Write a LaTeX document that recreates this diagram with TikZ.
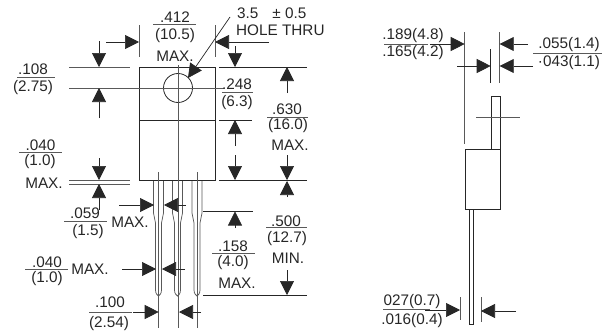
\documentclass[tikz,border=0pt]{standalone}
\usepackage{fontspec}
\setmainfont{Liberation Sans}
\usetikzlibrary{arrows.meta}
\tikzset{
 x=1pt,y=-1pt,
 ln/.style={line width=0.75pt,black!65},
 dk/.style={line width=0.8pt,black!85},
 dim/.style={line width=0.7pt,black!85,-{Triangle[length=14pt,width=14pt]}},
 lbl/.style={font=\fontsize{15.3}{16}\selectfont,text=black!85,inner sep=0pt,anchor=center},
 rule/.style={line width=0.75pt,black!65}
}
\begin{document}
\begin{tikzpicture}
\useasboundingbox (0,0) rectangle (614,332);
% package
\draw[dk] (139,67) rectangle (215,180.5);
\draw[dk] (139,120) -- (215,120);
\draw[dk] (178,88) circle (14.5);
\draw[ln] (178,65) -- (178,328);
\draw[ln] (69,88) -- (224,88);
% extension lines
\draw[ln] (69,67) -- (130,67);
\draw[dk] (219,67) -- (307,67);
\draw[dk] (219,120) -- (252,120);
\draw[dk] (219,180.5) -- (307,180.5);
\draw[ln] (69,180.5) -- (130,180.5) (69,184) -- (130,184);
\draw[ln] (139,25) -- (139,57) (215,25) -- (215,57);
\draw[dk] (203,211.5) -- (253,211.5);
\draw[dk] (203,295.5) -- (307,295.5);
% leads
\foreach \c in {158.5,177.5,197}{
 \draw[ln] (\c-5,181) -- (\c-5,213) -- (\c-3,223) -- (\c-3,290) .. controls (\c-3,294) and (\c-1,295) .. (\c,296)
   .. controls (\c+1,295) and (\c+3,294) .. (\c+3,290) -- (\c+3,223) -- (\c+5,213) -- (\c+5,181);
}
\draw[ln] (158.7,172) -- (158.7,328);
\draw[ln] (197,172) -- (197,328);
% dimension arrows
\draw[dim] (106,42) -- (139,42);
\draw[dim] (269,42) -- (215,42);
\draw[dim] (230,17) -- (188,78);
\draw[dim] (99,41) -- (99,67);
\draw[dim] (99,118) -- (99,88);
\draw[dim] (99,158) -- (99,180);
\draw[dim] (99,210) -- (99,184);
\draw[dim] (235,46) -- (235,67);
\draw[dim] (235,146) -- (235,120);
\draw[dim] (235,155) -- (235,180);
\draw[dim] (287,93) -- (287,67);
\draw[dim] (287,155) -- (287,180);
\draw[dim] (287,197) -- (287,181);
\draw[dim] (287,270) -- (287,295);
\draw[dim] (235,228) -- (235,211.5);
\draw[dim] (119,205) -- (154,205);
\draw[dim] (186,205) -- (164,205);
\draw[dim] (122,269) -- (156,269);
\draw[dim] (185,269) -- (162,269);
\draw[dim] (133,312) -- (158.7,312);
\draw[dim] (201,312) -- (179,312);
% fraction rules
\draw[rule] (153,24) -- (196,24);
\draw[rule] (17,77.5) -- (55,77.5);
\draw[rule] (222,92.5) -- (253,92.5);
\draw[rule] (267,117) -- (308,117);
\draw[rule] (19,152) -- (62,152);
\draw[rule] (64,221) -- (107,221);
\draw[rule] (25,269) -- (68,269);
\draw[rule] (212,253) -- (255,253);
\draw[rule] (266,227) -- (307,227);
\draw[rule] (89,312) -- (132,312);
% labels
\node[lbl] (a1) at (175,17) {.412};
\node[lbl] (a2) at (175,36) {(10.5)};
\node[lbl] (a3) at (175,56) {MAX.};
\node[lbl,anchor=west] (h1) at (237,13) {3.5\hspace{14pt}± 0.5};
\node[lbl,anchor=west] (h2) at (236,30) {HOLE THRU};
\node[lbl] (b1) at (33,69) {.108};
\node[lbl] (b2) at (33,88) {(2.75)};
\node[lbl] (c1) at (237,84) {.248};
\node[lbl] (c2) at (237,102.5) {(6.3)};
\node[lbl] (d1) at (287,109) {.630};
\node[lbl] (d2) at (288,126) {(16.0)};
\node[lbl] (d3) at (290,145) {MAX.};
\node[lbl] (e1) at (40.5,145) {.040};
\node[lbl] (e2) at (40,162) {(1.0)};
\node[lbl] (e3) at (44,183) {MAX.};
\node[lbl] (f1) at (85,213) {.059};
\node[lbl] (f2) at (88,232) {(1.5)};
\node[lbl] (f3) at (130,222) {MAX.};
\node[lbl] (g1) at (47,262) {.040};
\node[lbl] (g2) at (47,279) {(1.0)};
\node[lbl] (g3) at (90,269) {MAX.};
\node[lbl] (i1) at (233,246) {.158};
\node[lbl] (i2) at (233,263) {(4.0)};
\node[lbl] (i3) at (237,283) {MAX.};
\node[lbl] (j1) at (286,221) {.500};
\node[lbl] (j2) at (287,239) {(12.7)};
\node[lbl] (j3) at (288,258) {MIN.};
\node[lbl] (k1) at (110,302) {.100};
\node[lbl] (k2) at (109,324) {(2.54)};
% side view
\draw[ln] (464.7,32) -- (464.7,144);
\draw[ln] (499.7,32) -- (499.7,83);
\draw[dk] (490.7,49) -- (490.7,83);
\draw[dk] (491,96) rectangle (500,149);
\draw[ln] (476,117) -- (520,117);
\draw[dk] (465,149) rectangle (500,209);
\draw[dk] (469.5,209) rectangle (473.7,324);
\draw[ln] (460,297) -- (460,320) (481,297) -- (481,322);
\draw[dim] (430,44) -- (464.7,44);
\draw[dim] (528,44) -- (499.7,44);
\draw[dim] (457,66) -- (490.7,66);
\draw[dim] (533,66) -- (499.7,66);
\draw[dim] (425,310) -- (460,310);
\draw[dim] (516,311) -- (481,311);
\draw[rule] (384,44) -- (428,44);
\draw[rule] (533,53) -- (602,53);
\draw[rule] (383,309) -- (430,309);
\node[lbl] (s1) at (413,36) {.189(4.8)};
\node[lbl] (s2) at (413,53) {.165(4.2)};
\node[lbl] (s3) at (569,45) {.055(1.4)};
\node[lbl] (s4) at (569,63) {·043(1.1)};
\node[lbl] (s5) at (412,302) {027(0.7)};
\node[lbl] (s6) at (412,321) {.016(0.4)};
\end{tikzpicture}
\end{document}
